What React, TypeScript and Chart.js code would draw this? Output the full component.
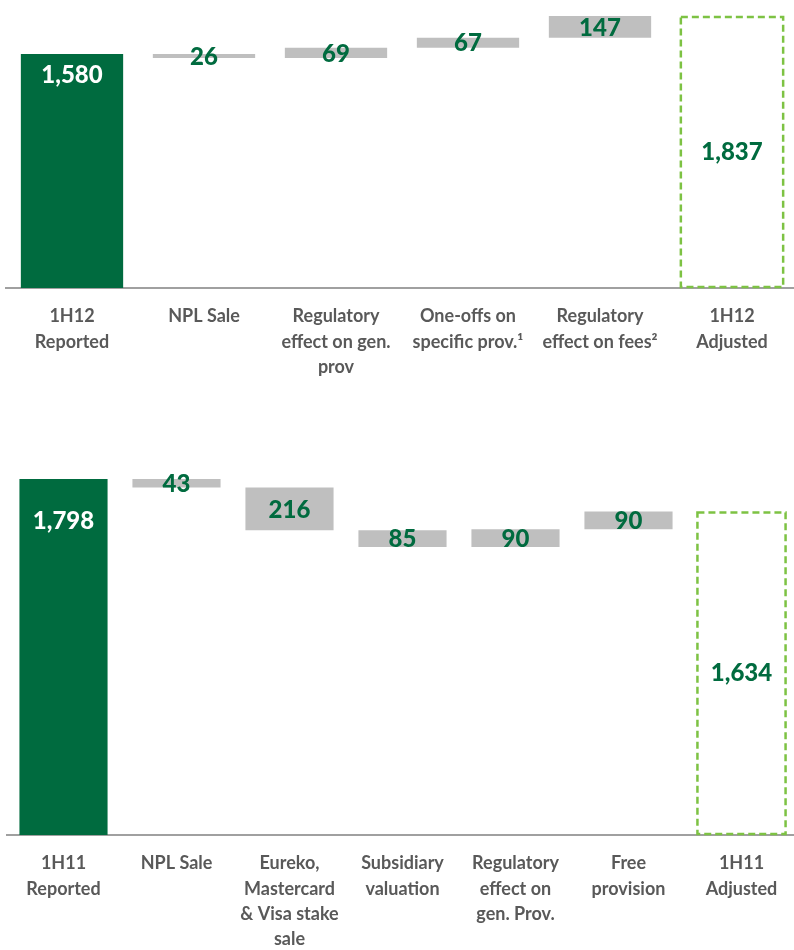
import React, { useEffect, useRef } from "react";
import { Chart, registerables } from "chart.js";

Chart.register(...registerables);

// ---- Data: 1H12 waterfall ----
const categories1H12: string[][] = [
  ["1H12", "Reported"],
  ["NPL Sale"],
  ["Regulatory", "effect on gen.", "prov"],
  ["One-offs on", "specific prov.¹"],
  ["Regulatory", "effect on fees²"],
  ["1H12", "Adjusted"],
];
const steps1H12: number[] = [1580, -26, 69, 67, 147, 1837];

// ---- Data: 1H11 waterfall ----
const categories1H11: string[][] = [
  ["1H11", "Reported"],
  ["NPL Sale"],
  ["Eureko,", "Mastercard", "& Visa stake", "sale"],
  ["Subsidiary", "valuation"],
  ["Regulatory", "effect on", "gen. Prov."],
  ["Free", "provision"],
  ["1H11", "Adjusted"],
];
const steps1H11: number[] = [1798, -43, -216, -85, 90, 90, 1634];

const GREEN = "#006B3F";
const GRAY = "#BFBFBF";
const DASH_GREEN = "#7DC243";
const TEXT_GRAY = "#595959";

function buildFloating(steps: number[]): [number, number][] {
  const out: [number, number][] = [];
  let running = 0;
  steps.forEach((v, i) => {
    if (i === 0 || i === steps.length - 1) {
      out.push([0, v]);
      running = v;
    } else {
      out.push([running, running + v]);
      running += v;
    }
  });
  return out;
}

const wfPlugin = {
  id: "wfLabels",
  afterDatasetsDraw(chart: any, _args: any, opts: any) {
    const ctx = chart.ctx as CanvasRenderingContext2D;
    const meta = chart.getDatasetMeta(0);
    const steps: number[] = opts.steps;
    const n = steps.length;
    meta.data.forEach((el: any, i: number) => {
      const p = el.getProps(["x", "y", "base", "width"], true);
      const top = Math.min(p.y, p.base);
      const bottom = Math.max(p.y, p.base);
      if (i === n - 1) {
        ctx.save();
        ctx.setLineDash([7, 4]);
        ctx.strokeStyle = DASH_GREEN;
        ctx.lineWidth = 2.5;
        ctx.strokeRect(p.x - p.width / 2, top + 1, p.width, bottom - top - 2);
        ctx.restore();
      }
      const text = Math.abs(steps[i]).toLocaleString("en-US");
      ctx.save();
      ctx.font = "900 24px Lato";
      ctx.textAlign = "center";
      ctx.textBaseline = "middle";
      let ty = (top + bottom) / 2;
      if (i === 0) {
        ctx.fillStyle = "#FFFFFF";
        ty = top + opts.firstOffset;
      } else {
        ctx.fillStyle = GREEN;
        if (i !== n - 1) ty += 1;
      }
      ctx.fillText(text, p.x, ty);
      ctx.restore();
    });
  },
};

function makeConfig(
  categories: string[][],
  steps: number[],
  yMax: number,
  axisHeight: number,
  padLeft: number,
  barPct: number,
  firstOffset: number
): any {
  const n = steps.length;
  const colors = steps.map((_, i) =>
    i === 0 ? GREEN : i === n - 1 ? "rgba(255,255,255,0)" : GRAY
  );
  return {
    type: "bar",
    data: {
      labels: categories,
      datasets: [
        {
          data: buildFloating(steps),
          backgroundColor: colors,
          borderWidth: 0,
          barPercentage: barPct,
          categoryPercentage: 1,
        },
      ],
    },
    options: {
      responsive: false,
      animation: false,
      layout: { padding: { left: padLeft, right: 0, top: 0, bottom: 0 } },
      plugins: {
        legend: { display: false },
        tooltip: { enabled: false },
        wfLabels: { steps, firstOffset },
      },
      scales: {
        x: {
          grid: { display: false, drawTicks: false },
          border: { display: true, color: "#A0A0A0", width: 2 },
          ticks: {
            color: TEXT_GRAY,
            font: { family: "Lato", size: 18, weight: "bold", lineHeight: 1.4 },
            padding: 16,
            maxRotation: 0,
            autoSkip: false,
          },
          afterFit: (s: any) => {
            s.height = axisHeight;
          },
        },
        y: {
          display: false,
          min: 0,
          max: yMax,
        },
      },
    },
    plugins: [wfPlugin],
  };
}

function WaterfallCanvas(props: {
  config: () => any;
  top: number;
  width: number;
  height: number;
}) {
  const ref = useRef<HTMLCanvasElement | null>(null);
  useEffect(() => {
    if (!ref.current) return;
    const chart = new Chart(ref.current, props.config());
    return () => chart.destroy();
  }, []);
  return (
    <canvas
      ref={ref}
      width={props.width}
      height={props.height}
      style={{
        position: "absolute",
        left: 0,
        top: props.top,
        width: props.width,
        height: props.height,
        display: "block",
      }}
    />
  );
}

export default function App() {
  return (
    <div
      style={{
        position: "absolute",
        left: 0,
        top: 0,
        width: 794,
        height: 950,
        overflow: "hidden",
        background: "#FFFFFF",
      }}
    >
      <WaterfallCanvas
        top={0}
        width={798}
        height={400}
        config={() =>
          makeConfig(categories1H12, steps1H12, 1945, 112, 6, 0.775, 21)
        }
      />
      <WaterfallCanvas
        top={420}
        width={798}
        height={530}
        config={() =>
          makeConfig(categories1H11, steps1H11, 2096, 115, 7, 0.78, 42)
        }
      />
    </div>
  );
}
